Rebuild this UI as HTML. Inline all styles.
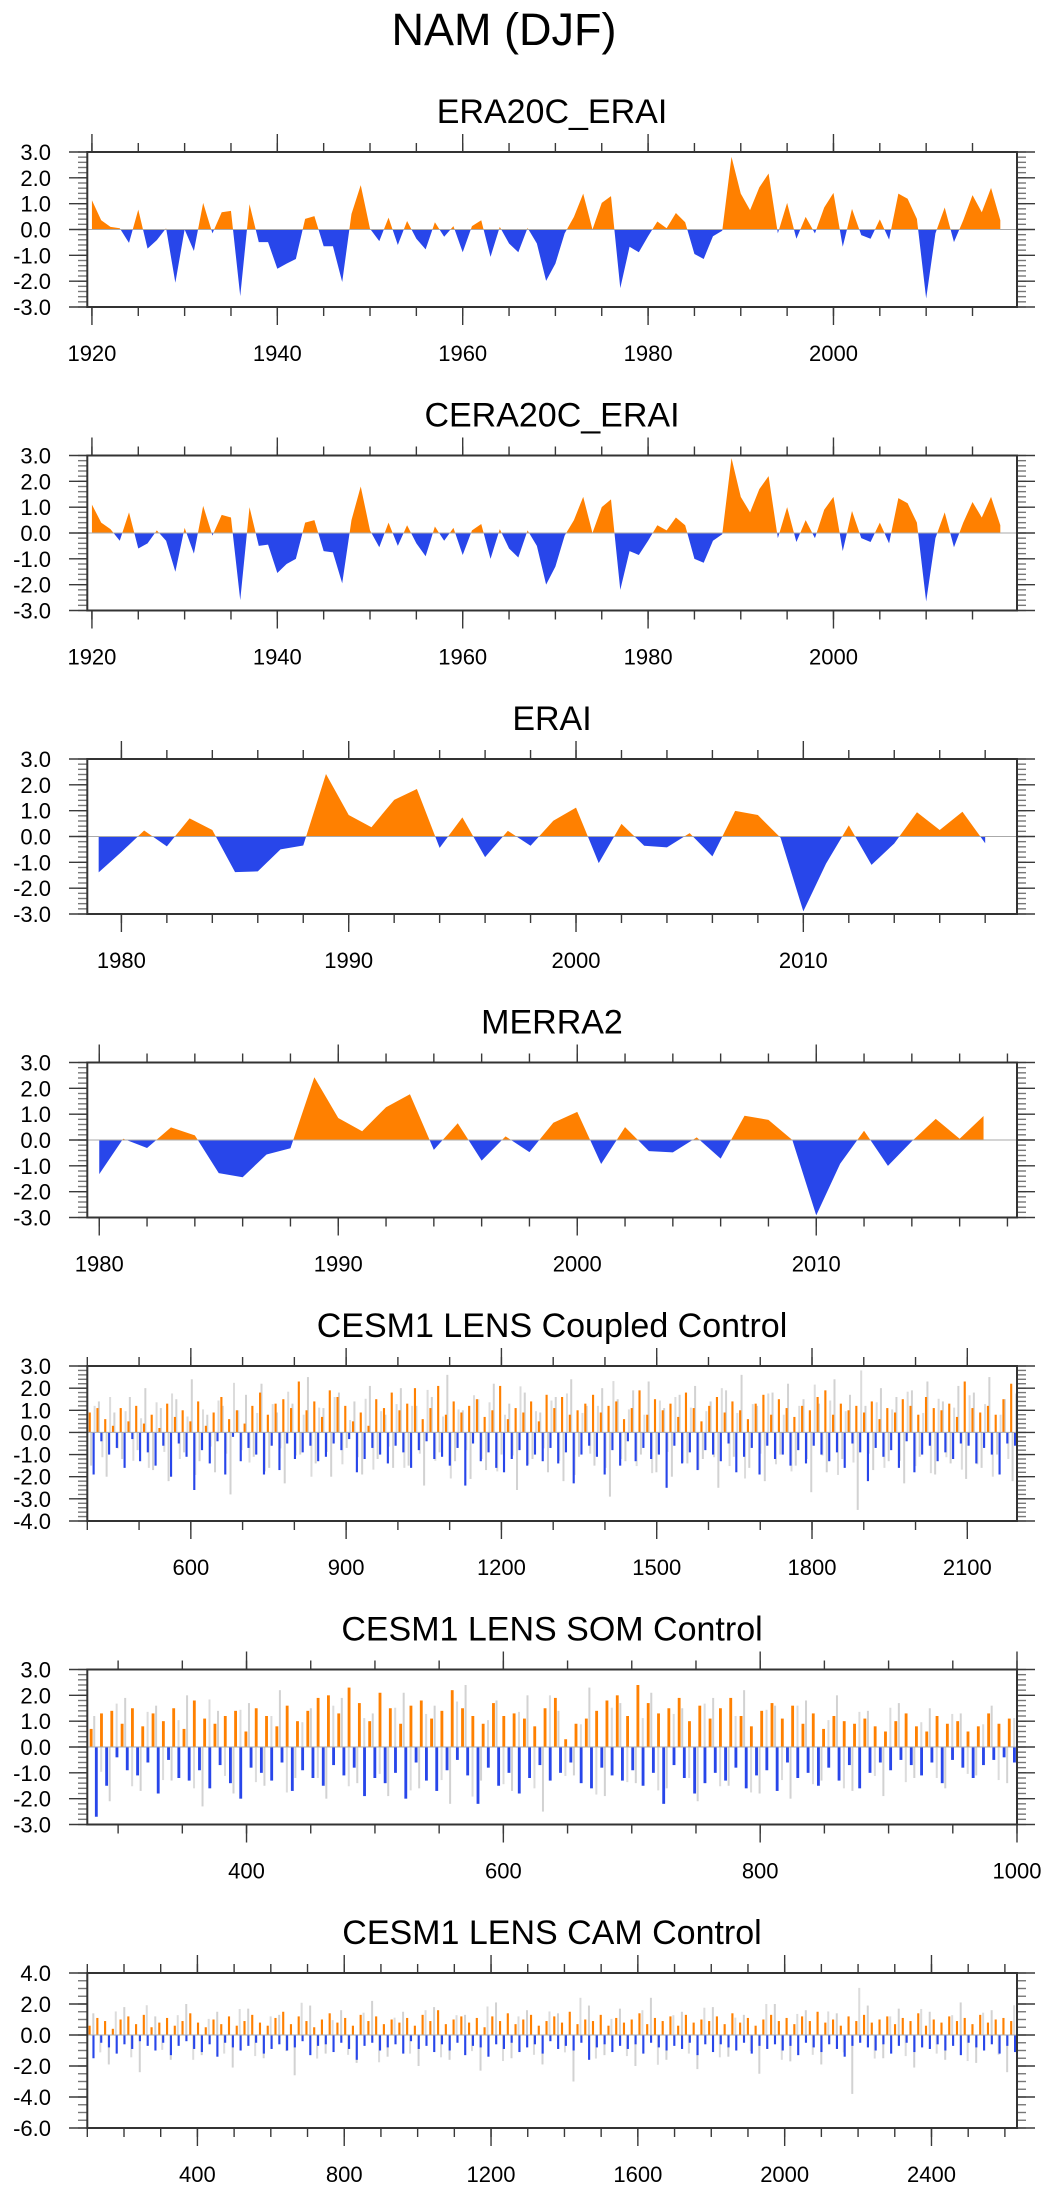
<!DOCTYPE html>
<html><head><meta charset="utf-8"><style>
html,body{margin:0;padding:0;background:#fff;}
svg{display:block;font-family:"Liberation Sans",Arial,sans-serif;}
</style></head><body>
<svg id="chart" width="1049" height="2191" viewBox="0 0 1049 2191">
<text x="504" y="45" font-size="45" text-anchor="middle" fill="#000">NAM (DJF)</text>
</svg>
<script>
// ---- data ----
const era20cYears0 = 1920;
const era20cValues = [1.13,0.36,0.1,0.05,-0.52,0.77,-0.74,-0.41,0.05,-2.06,0,-0.83,1.03,-0.15,0.67,0.72,-2.58,0.98,-0.49,-0.49,-1.52,-1.32,-1.14,0.41,0.52,-0.65,-0.65,-2.03,0.6,1.72,0.03,-0.45,0.46,-0.6,0.33,-0.36,-0.77,0.28,-0.28,0.13,-0.88,0.13,0.36,-1.06,0.1,-0.54,-0.88,0.06,-0.54,-1.99,-1.32,-0.15,0.49,1.39,0,1.03,1.29,-2.27,-0.67,-0.88,-0.26,0.31,0.05,0.64,0.28,-0.95,-1.14,-0.26,-0.05,2.81,1.39,0.75,1.63,2.17,-0.15,1.03,-0.36,0.49,-0.15,0.85,1.42,-0.67,0.8,-0.22,-0.36,0.39,-0.39,1.39,1.19,0.41,-2.67,-0.15,0.85,-0.49,0.36,1.33,0.67,1.61,0.36];
const cera20cValues = [1.1,0.4,0.15,-0.3,0.8,-0.6,-0.4,0.1,-0.3,-1.5,0.2,-0.8,1.05,-0.1,0.7,0.6,-2.6,1.0,-0.5,-0.45,-1.55,-1.2,-1.0,0.4,0.5,-0.7,-0.75,-1.95,0.5,1.8,0.1,-0.55,0.4,-0.5,0.3,-0.4,-0.9,0.25,-0.3,0.2,-0.85,0.1,0.35,-1.0,0.15,-0.6,-0.95,0.1,-0.5,-2.0,-1.3,-0.1,0.5,1.4,0,1.0,1.3,-2.2,-0.7,-0.85,-0.3,0.3,0.1,0.6,0.3,-1.0,-1.15,-0.3,-0.05,2.9,1.4,0.8,1.7,2.2,-0.2,1.0,-0.35,0.5,-0.2,0.9,1.4,-0.7,0.85,-0.2,-0.35,0.4,-0.4,1.35,1.15,0.4,-2.65,-0.2,0.8,-0.55,0.4,1.2,0.6,1.4,0.3];
const eraiYears0 = 1979;
const eraiValues = [-1.39,-0.6,0.23,-0.38,0.7,0.25,-1.38,-1.35,-0.5,-0.35,2.42,0.83,0.36,1.42,1.84,-0.44,0.74,-0.8,0.22,-0.36,0.61,1.12,-1.03,0.49,-0.36,-0.42,0.13,-0.77,0.99,0.83,-0.05,-2.9,-1.05,0.43,-1.1,-0.27,0.94,0.25,0.96,-0.26];
const merraYears0 = 1980;
const merraValues = [-1.32,0.05,-0.31,0.49,0.18,-1.28,-1.44,-0.56,-0.32,2.43,0.85,0.34,1.27,1.77,-0.38,0.65,-0.8,0.14,-0.47,0.67,1.09,-0.93,0.5,-0.43,-0.48,0.1,-0.72,0.94,0.78,0,-2.92,-0.92,0.36,-1.0,-0.05,0.82,0.05,0.93];
const coupledValues = [0.9,-1.9,1.1,-0.4,0.6,-1.0,0.3,-0.7,1.1,-1.6,0.5,-0.3,1.2,-1.3,0.4,-0.9,0.8,-1.5,0.2,-0.6,
1.3,-2.0,0.7,-0.5,1.0,-1.1,0.5,-2.6,1.4,-0.8,0.3,-1.4,0.9,-0.4,1.6,-1.9,0.6,-0.2,1.0,-1.3,
0.4,-0.7,1.2,-1.0,1.8,-1.9,0.8,-0.6,1.3,-1.7,1.5,-0.5,1.1,-1.2,2.3,-0.9,1.0,-0.6,1.4,-1.3,
0.7,-1.1,1.9,-0.5,1.6,-0.8,1.2,-0.3,0.5,-1.8,0.9,-1.2,0.3,-0.7,1.5,-1.0,1.1,-1.4,1.8,-0.6,
1.0,-0.9,1.3,-1.6,2.0,-0.8,0.6,-0.4,1.1,-1.2,2.1,-1.1,0.8,-1.5,1.4,-0.7,0.9,-2.4,1.2,-0.5,
1.5,-1.3,0.7,-0.9,1.0,-1.6,2.1,-1.8,0.6,-1.2,1.1,-0.8,0.9,-1.5,1.4,-1.0,0.5,-1.3,1.7,-0.7,
1.1,-1.4,1.6,-0.9,0.8,-2.3,1.0,-1.0,1.3,-0.6,1.7,-1.1,0.9,-1.9,1.2,-0.8,1.4,-1.5,0.6,-0.4,
1.1,-1.3,1.9,-0.7,0.8,-1.2,1.5,-1.0,1.0,-2.5,1.3,-0.6,0.7,-1.4,1.8,-0.9,1.1,-1.7,0.5,-0.8,
1.2,-1.0,1.6,-1.3,0.9,-0.5,1.4,-1.8,1.0,-1.1,0.6,-0.7,1.3,-1.9,1.7,-0.6,0.8,-1.2,1.5,-1.0,
1.1,-1.5,0.7,-0.8,1.2,-1.4,1.0,-0.6,1.6,-1.0,1.9,-1.3,0.8,-0.9,1.3,-1.6,1.0,-0.5,1.2,-0.9,
0.9,-2.2,1.4,-0.7,0.6,-1.1,1.1,-0.8,0.9,-1.6,1.5,-0.4,1.2,-1.8,0.8,-1.0,1.6,-0.6,1.1,-1.3,
1.0,-0.9,1.3,-1.2,0.7,-0.5,2.3,-0.6,1.1,-1.4,0.9,-0.7,1.2,-1.0,0.8,-1.9,1.5,-0.5,2.2,-0.6];
const coupledGrey = [-1.5,1.4,-2.0,0.9,-1.2,1.6,-0.8,2.0,-1.7,1.1,-2.2,1.5,-0.9,2.4,-1.3,0.8,-1.8,1.2,-2.8,1.0,
1.7,-1.1,2.2,-1.6,0.9,-2.3,1.3,-1.0,2.5,-1.4,1.1,-2.0,1.8,-0.7,1.4,-1.9,2.1,-1.2,0.8,-1.6,
2.0,-1.5,1.2,-2.4,1.6,-0.9,2.6,-1.3,1.0,-2.1,1.5,-1.7,2.2,-1.0,1.3,-2.6,1.8,-1.2,0.9,-1.8,
1.6,-2.2,2.4,-1.1,1.2,-1.5,2.0,-2.9,1.5,-1.3,1.9,-1.0,2.3,-1.8,1.1,-2.0,1.7,-1.4,2.1,-1.2,
1.4,-2.5,1.9,-1.1,2.6,-1.6,1.2,-2.2,1.8,-1.0,2.2,-1.5,1.5,-2.7,1.3,-1.8,2.4,-1.2,1.7,-3.5,
1.2,-1.7,2.0,-1.3,1.6,-2.3,1.9,-1.1,2.3,-1.9,1.4,-1.4,2.1,-2.1,1.8,-1.6,2.5,-1.0,1.5,-2.2];
const somValues = [0.7,-2.7,1.3,-1.5,1.4,-0.4,0.9,-0.9,1.5,-1.1,0.8,-0.6,1.3,-1.8,1.0,-0.5,1.5,-1.2,0.7,-1.3,
1.8,-0.9,1.1,-1.6,0.9,-0.7,1.2,-1.4,1.4,-2.0,0.6,-0.8,1.5,-1.0,1.2,-1.3,0.8,-0.6,1.6,-1.7,
1.0,-0.9,1.4,-1.2,1.9,-1.5,2.0,-0.7,1.3,-1.1,2.3,-0.8,1.7,-1.9,1.0,-1.2,2.1,-1.4,1.5,-1.0,
0.9,-2.0,1.6,-0.6,1.8,-1.3,1.1,-1.7,1.4,-0.9,2.2,-0.5,1.5,-1.1,1.2,-2.2,0.9,-0.8,1.7,-1.5,
1.2,-1.0,1.3,-1.8,1.1,-1.2,0.8,-0.7,1.5,-1.3,1.9,-1.0,0.3,-0.6,0.9,-1.4,1.1,-1.6,1.4,-0.8,
1.8,-1.1,2.0,-1.3,1.2,-0.9,2.4,-1.5,1.7,-1.0,1.3,-2.2,1.5,-0.7,1.9,-1.2,1.0,-1.8,1.6,-1.4,
1.1,-1.0,1.5,-1.3,1.9,-0.8,1.2,-1.6,0.8,-1.1,1.4,-0.9,1.7,-1.7,1.1,-0.6,1.6,-1.2,0.9,-1.0,
1.3,-1.5,0.7,-0.8,1.2,-1.3,1.0,-0.7,0.9,-1.6,1.1,-1.0,0.8,-0.6,0.6,-0.9,1.0,-0.5,1.3,-0.7,
0.8,-1.1,0.6,-0.6,1.2,-1.4,0.9,-0.5,1.0,-0.8,0.6,-1.2,0.8,-0.7,1.3,-0.5,0.9,-0.4,1.1,-0.6];
const somGrey = [1.2,-2.1,1.9,-1.7,1.6,-1.3,2.0,-2.3,1.4,-1.8,1.7,-1.5,2.2,-1.2,1.5,-2.0,1.9,-1.4,1.3,-1.9,
2.1,-1.6,1.6,-2.2,2.4,-1.3,1.8,-1.7,2.0,-2.5,1.4,-1.1,2.3,-1.9,1.7,-1.4,2.1,-1.6,1.5,-2.1,
1.9,-1.5,2.2,-1.8,1.6,-2.0,1.8,-1.3,2.0,-1.7,1.4,-1.9,1.7,-1.2,1.5,-1.6,1.3,-1.1,1.6,-1.4];
const camValues = [0.6,-1.5,1.1,-0.5,0.9,-0.8,0.4,-1.2,1.0,-0.6,1.2,-0.9,0.7,-0.4,1.3,-0.7,0.5,-1.0,0.8,-0.5,
1.1,-1.3,0.6,-0.7,0.9,-0.4,1.4,-0.9,0.8,-1.1,0.5,-0.6,1.0,-1.4,0.7,-0.5,1.2,-0.8,0.6,-1.0,
0.9,-0.7,1.3,-0.5,0.8,-1.2,0.6,-0.9,1.1,-0.6,1.5,-1.0,0.7,-0.8,1.2,-0.4,0.9,-1.3,0.5,-0.7,
1.0,-0.6,1.4,-1.1,0.8,-0.5,1.1,-0.9,0.6,-1.6,1.3,-0.7,0.9,-0.5,1.2,-1.0,0.7,-0.8,1.0,-0.6,
0.8,-1.2,1.1,-0.4,0.6,-0.9,1.3,-0.7,0.9,-1.1,1.6,-0.6,0.7,-1.0,1.0,-0.5,1.2,-1.3,0.8,-0.7,
1.1,-0.8,0.5,-1.4,1.2,-0.6,0.9,-0.9,1.4,-0.5,0.7,-1.1,1.0,-0.8,1.3,-0.6,0.6,-1.2,0.9,-0.4,
1.2,-0.9,0.8,-0.7,1.5,-1.0,0.7,-0.5,1.0,-1.6,0.9,-0.8,1.3,-0.6,0.6,-1.1,1.1,-0.7,0.8,-0.9,
1.0,-0.6,1.4,-1.2,0.7,-0.5,1.1,-0.8,0.9,-1.0,1.2,-0.7,0.6,-0.9,1.3,-0.5,0.8,-1.3,1.0,-0.6,
0.9,-1.1,1.2,-0.6,0.7,-0.8,1.4,-1.0,0.8,-0.5,1.1,-1.2,0.6,-0.7,1.0,-0.9,1.3,-0.6,0.9,-1.0,
1.1,-0.7,0.7,-1.3,1.2,-0.5,0.9,-0.8,1.5,-1.1,0.8,-0.6,1.0,-0.9,0.6,-1.4,1.2,-0.7,0.9,-0.5,
1.3,-0.8,0.8,-1.0,1.0,-0.6,1.2,-1.2,0.7,-0.7,1.1,-0.5,0.9,-1.1,1.4,-0.8,0.6,-0.9,1.0,-0.6,
0.8,-1.0,1.2,-0.7,0.9,-1.3,1.1,-0.5,0.7,-0.8,1.3,-1.0,0.8,-0.6,1.0,-1.2,1.1,-0.7,0.9,-1.1];
const camGrey = [1.4,-1.9,1.8,-2.4,1.2,-1.6,2.0,-1.3,1.5,-2.1,1.7,-1.5,1.3,-2.6,1.9,-1.2,1.6,-1.8,2.2,-1.4,
1.5,-2.0,1.8,-1.6,1.3,-2.3,2.1,-1.5,1.6,-1.9,1.4,-3.0,1.9,-1.3,1.7,-2.0,2.4,-1.6,1.5,-2.2,
1.8,-1.4,1.3,-2.5,2.0,-1.7,1.6,-1.9,1.4,-3.8,1.9,-1.5,1.7,-2.1,1.5,-1.6,2.1,-1.8,1.6,-2.4];
const titles = ["ERA20C_ERAI","CERA20C_ERAI","ERAI","MERRA2","CESM1 LENS Coupled Control","CESM1 LENS SOM Control","CESM1 LENS CAM Control"];

// ---- drawing ----
const NS="http://www.w3.org/2000/svg";
const svg=document.getElementById('chart');
const BX0=87.3, BX1=1017, BH=155;
const ORANGE="#ff8000", BLUE="#2846ea";
function mk(tag,attrs,parent){const e=document.createElementNS(NS,tag);for(const k in attrs)e.setAttribute(k,attrs[k]);(parent||svg).appendChild(e);return e;}

function panel(idx,o){
  const top=152+303.5*idx, bot=top+BH;
  const g=mk('g',{});
  
  
  const sx=x=>BX0+(x-o.xmin)/(o.xmax-o.xmin)*(BX1-BX0);
  const sy=v=>top+(o.ymax-v)/(o.ymax-o.ymin)*BH;
  const t=mk('text',{x:552,y:top-29,'font-size':34,'text-anchor':'middle',fill:'#000'},g);
  t.textContent=titles[idx];
  
  
  const cid='clip'+idx;
  const cp=mk('clipPath',{id:cid},g);
  mk('rect',{x:BX0,y:top,width:BX1-BX0,height:BH},cp);
  const dg=mk('g',{'clip-path':'url(#'+cid+')'},g);
  
  
  const z=sy(0);
  if(o.area){
    const vals=o.area, y0=o.y0;
    let pts=sx(y0)+','+z+' ';
    vals.forEach((v,i)=>{pts+=sx(y0+i)+','+sy(v)+' ';});
    pts+=sx(y0+vals.length-1)+','+z;
    const cu=mk('clipPath',{id:cid+'u'},g);mk('rect',{x:0,y:top,width:1049,height:z-top},cu);
    const cd=mk('clipPath',{id:cid+'d'},g);mk('rect',{x:0,y:z,width:1049,height:bot-z},cd);
    const p1=mk('polygon',{points:pts,fill:ORANGE,'clip-path':'url(#'+cid+'u)'},dg);
    
    
    const p2=mk('polygon',{points:pts,fill:BLUE,'clip-path':'url(#'+cid+'d)'},dg);
    
    
  } else {
    const grey=o.grey, n2=grey.length;
    grey.forEach((v,i)=>{
      const x=sx(o.x0+(i+0.3)*(o.x1-o.x0)/n2);
      const r=mk('rect',{x:x,y:Math.min(z,sy(v)),width:2,height:Math.abs(sy(v)-z),fill:'#d2d2d2'},dg);
      
      
    });
    grey.forEach((v,i)=>{
      const x=sx(o.x0+(i+0.75)*(o.x1-o.x0)/n2);
      const r=mk('rect',{x:x,y:Math.min(z,sy(-v*0.8)),width:2,height:Math.abs(sy(-v*0.8)-z),fill:'#dcdcdc'},dg);
      
      
    });
    const vals=o.bars, n=vals.length, bw=(BX1-BX0)/n*0.55;
    vals.forEach((v,i)=>{
      const x=sx(o.x0+(i+0.5)*(o.x1-o.x0)/n);
      const r=mk('rect',{x:x-bw/2,y:Math.min(z,sy(v)),width:bw,height:Math.abs(sy(v)-z),fill:v>=0?ORANGE:BLUE},dg);
      
      
    });
  }
  mk('line',{x1:BX0,x2:BX1,y1:z,y2:z,stroke:'#aaa','stroke-width':1},g);
  const ticks=mk('g',{stroke:'#3a3a3a','stroke-width':1.4},g);
  for(let v=o.ymin;v<=o.ymax+1e-6;v+=o.ymin0){
    const y=sy(v);
    mk('line',{x1:78,x2:BX0,y1:y,y2:y,stroke:'#777'},ticks);
    mk('line',{x1:BX1,x2:1026,y1:y,y2:y,stroke:'#777'},ticks);
  }
  for(let v=o.ymin;v<=o.ymax+1e-6;v+=o.ymaj){
    const y=sy(v);
    mk('line',{x1:69,x2:BX0,y1:y,y2:y},ticks);
    mk('line',{x1:BX1,x2:1035,y1:y,y2:y},ticks);
    const lt=mk('text',{x:51,y:y+8,'font-size':22,'text-anchor':'end',fill:'#000',stroke:'none'},g);
    lt.textContent=v.toFixed(1);
    
    
  }
  let m0=Math.ceil(o.xmin/o.xmin0)*o.xmin0;
  for(let x=m0;x<=o.xmax;x+=o.xmin0){
    const px=sx(x);
    mk('line',{x1:px,x2:px,y1:top-9,y2:top},ticks);
    mk('line',{x1:px,x2:px,y1:bot,y2:bot+9},ticks);
  }
  let M0=Math.ceil(o.xmin/o.xmaj)*o.xmaj;
  for(let x=M0;x<=o.xmax;x+=o.xmaj){
    const px=sx(x);
    mk('line',{x1:px,x2:px,y1:top-18,y2:top},ticks);
    mk('line',{x1:px,x2:px,y1:bot,y2:bot+18},ticks);
    const lt=mk('text',{x:px,y:bot+54,'font-size':22,'text-anchor':'middle',fill:'#000',stroke:'none'},g);
    lt.textContent=String(x);
    
    
  }
  const box=mk('rect',{x:BX0,y:top,width:BX1-BX0,height:BH,fill:'none',stroke:'#333','stroke-width':2},g);
  
  
}
panel(0,{xmin:1919.5,xmax:2019.8,ymin:-3,ymax:3,ymaj:1,ymin0:0.2,xmaj:20,xmin0:5,area:era20cValues,y0:era20cYears0});
panel(1,{xmin:1919.5,xmax:2019.8,ymin:-3,ymax:3,ymaj:1,ymin0:0.2,xmaj:20,xmin0:5,area:cera20cValues,y0:era20cYears0});
panel(2,{xmin:1978.5,xmax:2019.4,ymin:-3,ymax:3,ymaj:1,ymin0:0.2,xmaj:10,xmin0:2,area:eraiValues,y0:eraiYears0});
panel(3,{xmin:1979.5,xmax:2018.4,ymin:-3,ymax:3,ymaj:1,ymin0:0.2,xmaj:10,xmin0:2,area:merraValues,y0:merraYears0});
panel(4,{xmin:400,xmax:2196,ymin:-4,ymax:3,ymaj:1,ymin0:0.2,xmaj:300,xmin0:100,bars:coupledValues,grey:coupledGrey,x0:401,x1:2196});
panel(5,{xmin:276,xmax:1000,ymin:-3,ymax:3,ymaj:1,ymin0:0.2,xmaj:200,xmin0:50,bars:somValues,grey:somGrey,x0:277,x1:1000});
panel(6,{xmin:100,xmax:2633,ymin:-6,ymax:4,ymaj:2,ymin0:0.5,xmaj:400,xmin0:100,bars:camValues,grey:camGrey,x0:101,x1:2633});
</script>
</body></html>
